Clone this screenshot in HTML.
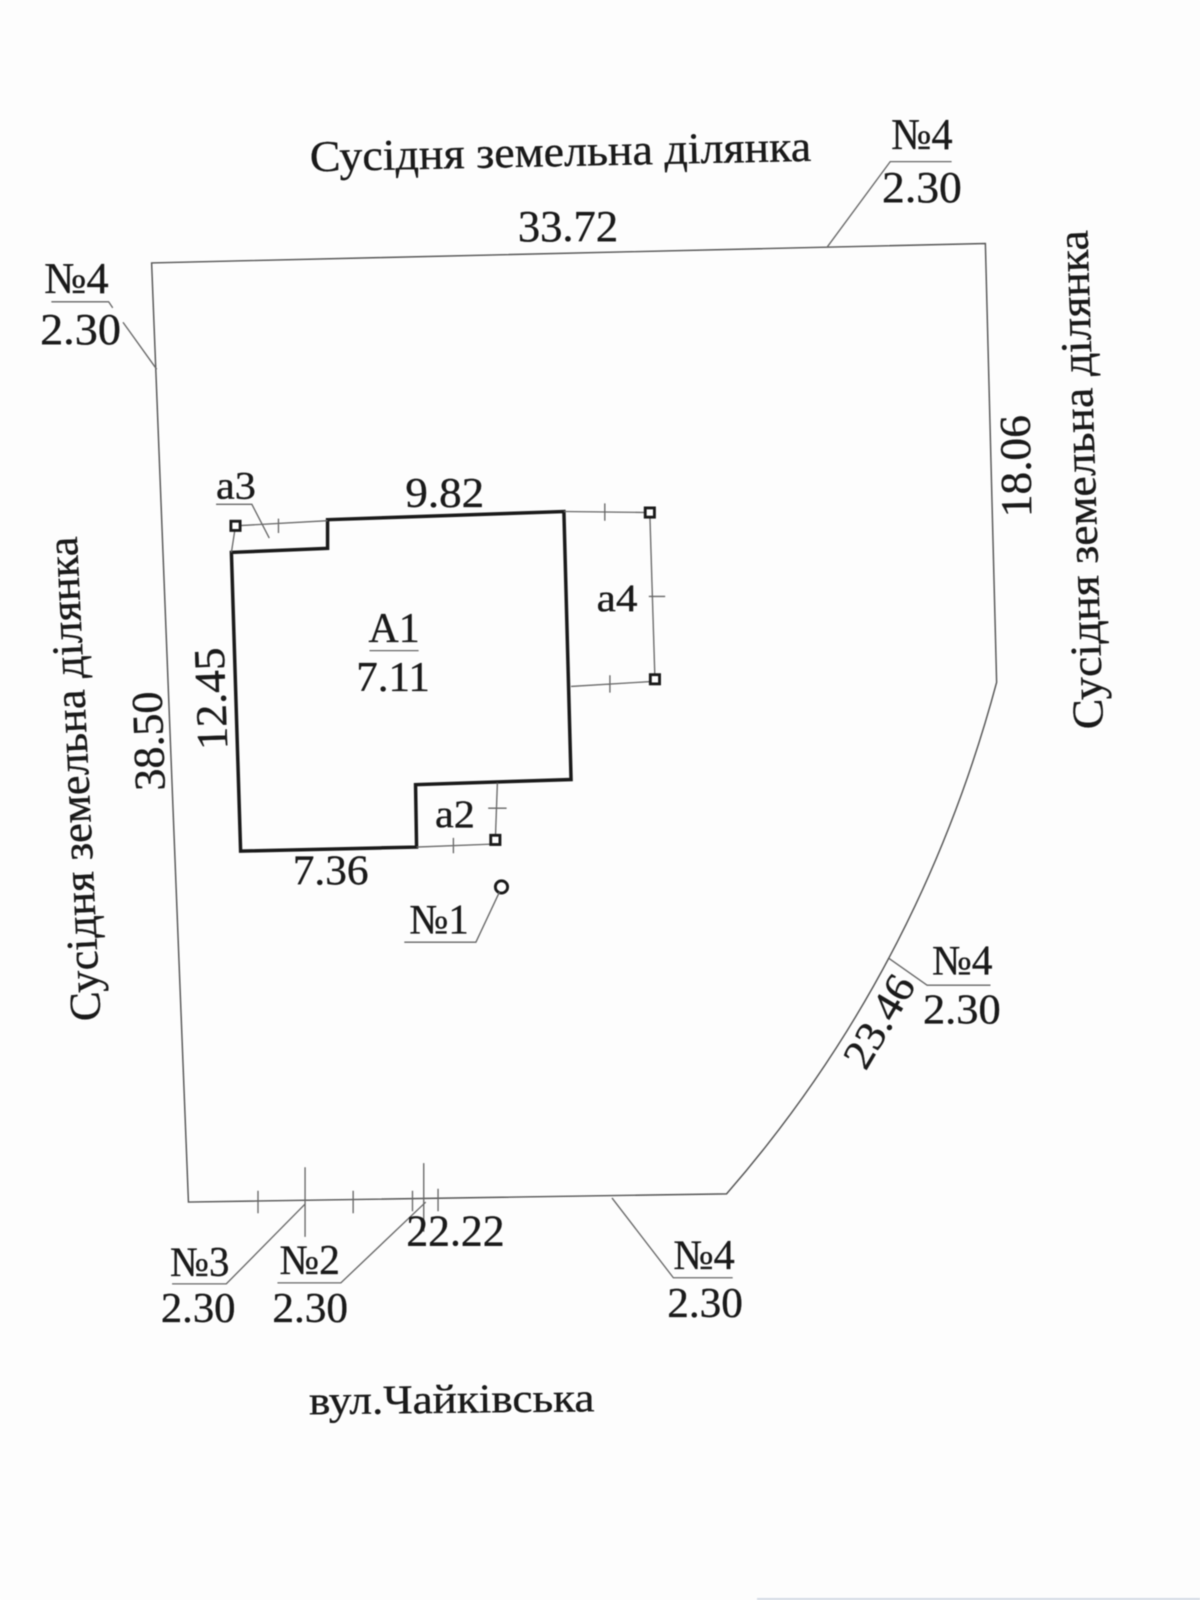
<!DOCTYPE html>
<html lang="uk">
<head>
<meta charset="utf-8">
<title>Схема земельної ділянки</title>
<style>
html,body{margin:0;padding:0;background:#fdfdfd;width:1200px;height:1600px;overflow:hidden}
svg{display:block;filter:blur(.4px)}
text{font-family:"Liberation Serif","DejaVu Serif",serif;fill:#1a1a1a;stroke:#1a1a1a;stroke-width:.35px;font-size:43px}
.t{fill:none;stroke:#555;stroke-width:1.4}
.l{fill:none;stroke:#666;stroke-width:1.3}
.b{fill:none;stroke:#1a1a1a;stroke-width:3.4;stroke-linejoin:miter}
.s{fill:#fff;stroke:#1a1a1a;stroke-width:2.8}
</style>
</head>
<body>
<svg width="1200" height="1600" viewBox="0 0 1173 1564" xmlns="http://www.w3.org/2000/svg">
<rect x="0" y="0" width="1173" height="1564" fill="#fdfdfd"/>
<rect x="740" y="1562" width="433" height="2" fill="#d5dbe6"/>

<g transform="translate(-1.8 -1)">
<!-- parcel boundary -->
<path class="t" d="M150 258 L965 239 L976 668 Q900 952 712 1168 L186 1176 Z"/>

<!-- building -->
<path class="b" d="M322 509 L553 501 L560 763 L408 768 L409 829 L237 833 L228 541 L322 537 Z"/>

<!-- thin extensions -->
<path class="l" d="M232 515 L322 510 M232 515 L228 541 M274 508 V522
M553 501 L637 502 M593 493 V510 M637 503 L642 665 M636 584 H652
M560 672 L642 667 M598 661 V678
M488 766 L486 822 M479 791 H497 M409 829 L486 826 M445 820 V835"/>
<rect class="s" x="227.500" y="510.500" width="9" height="9"/>
<rect class="s" x="632.500" y="497.500" width="9" height="9"/>
<rect class="s" x="637.500" y="660.500" width="9" height="9"/>
<rect class="s" x="481.500" y="817.500" width="9" height="9"/>
<circle class="s" cx="492" cy="868" r="6"/>

<!-- leaders -->
<path class="l" d="M810 243 L872 159 H932
M52 296 H108 L112 302 M122 316 L155 362
M213 494 H248 L265 527
M397 922 H467 L490 873
M871 938 L908 964 H970
M170 1256 H223 L300 1178
M273 1255 H335 L418 1176
M600 1172 L660 1250 H718
M363 637 H411"/>

<!-- bottom ticks -->
<path class="l" d="M254 1165 V1187 M300 1142 V1210 M347 1165 V1187 M405 1165 V1185 M416 1138 V1205 M430 1163 V1185"/>

<!-- labels -->
<g transform="translate(0 -1.500)">
<text x="305" y="170" textLength="490" lengthAdjust="spacingAndGlyphs" transform="rotate(-1.2 305 170)">Сусідня земельна ділянка</text>
<text x="508" y="238" textLength="98" lengthAdjust="spacingAndGlyphs">33.72</text>
<text x="873" y="148" textLength="60" lengthAdjust="spacingAndGlyphs">№4</text>
<text x="864" y="200" textLength="78" lengthAdjust="spacingAndGlyphs">2.30</text>
<text x="45" y="289" textLength="63" lengthAdjust="spacingAndGlyphs">№4</text>
<text x="41" y="339" textLength="79" lengthAdjust="spacingAndGlyphs">2.30</text>

<text transform="translate(1080 715) rotate(-91.8)" textLength="488" lengthAdjust="spacingAndGlyphs">Сусідня земельна ділянка</text>
<text transform="translate(1010 508) rotate(-91)" textLength="100" lengthAdjust="spacingAndGlyphs">18.06</text>
<text transform="translate(100 1000) rotate(-92.8)" textLength="474" lengthAdjust="spacingAndGlyphs">Сусідня земельна ділянка</text>
<text transform="translate(163 775) rotate(-92)" textLength="97" lengthAdjust="spacingAndGlyphs">38.50</text>
<text transform="translate(224 735) rotate(-92)" textLength="100" lengthAdjust="spacingAndGlyphs">12.45</text>

<text x="213" y="490" style="font-size:38px" textLength="39" lengthAdjust="spacingAndGlyphs">а3</text>
<text x="398" y="498" style="font-size:41px" textLength="77" lengthAdjust="spacingAndGlyphs">9.82</text>
<text x="362" y="630" style="font-size:41px" textLength="50" lengthAdjust="spacingAndGlyphs">А1</text>
<text x="350" y="678" style="font-size:41px" textLength="72" lengthAdjust="spacingAndGlyphs">7.11</text>
<text x="585" y="600" style="font-size:38px" textLength="40" lengthAdjust="spacingAndGlyphs">а4</text>
<text x="427" y="811" style="font-size:38px" textLength="39" lengthAdjust="spacingAndGlyphs">а2</text>
<text x="288" y="867" style="font-size:41px" textLength="74" lengthAdjust="spacingAndGlyphs">7.36</text>
<text x="402" y="915" style="font-size:41px" textLength="58" lengthAdjust="spacingAndGlyphs">№1</text>

<text transform="translate(848 1050) rotate(-59.5)" style="font-size:41px" textLength="98" lengthAdjust="spacingAndGlyphs">23.46</text>
<text x="913" y="955" style="font-size:41px" textLength="59" lengthAdjust="spacingAndGlyphs">№4</text>
<text x="904" y="1003" style="font-size:41px" textLength="76" lengthAdjust="spacingAndGlyphs">2.30</text>

<text x="399" y="1220" textLength="96" lengthAdjust="spacingAndGlyphs">22.22</text>
<text x="168" y="1250" style="font-size:41px" textLength="58" lengthAdjust="spacingAndGlyphs">№3</text>
<text x="159" y="1295" style="font-size:41px" textLength="73" lengthAdjust="spacingAndGlyphs">2.30</text>
<text x="275" y="1248" style="font-size:41px" textLength="59" lengthAdjust="spacingAndGlyphs">№2</text>
<text x="268" y="1295" style="font-size:41px" textLength="74" lengthAdjust="spacingAndGlyphs">2.30</text>
<text x="660" y="1243" style="font-size:41px" textLength="60" lengthAdjust="spacingAndGlyphs">№4</text>
<text x="654" y="1290" style="font-size:41px" textLength="74" lengthAdjust="spacingAndGlyphs">2.30</text>
<text x="304" y="1385" style="font-size:40px" textLength="279" lengthAdjust="spacingAndGlyphs" transform="rotate(-0.6 304 1385)">вул.Чайківська</text>
</g>
</g>
</svg>
</body>
</html>
